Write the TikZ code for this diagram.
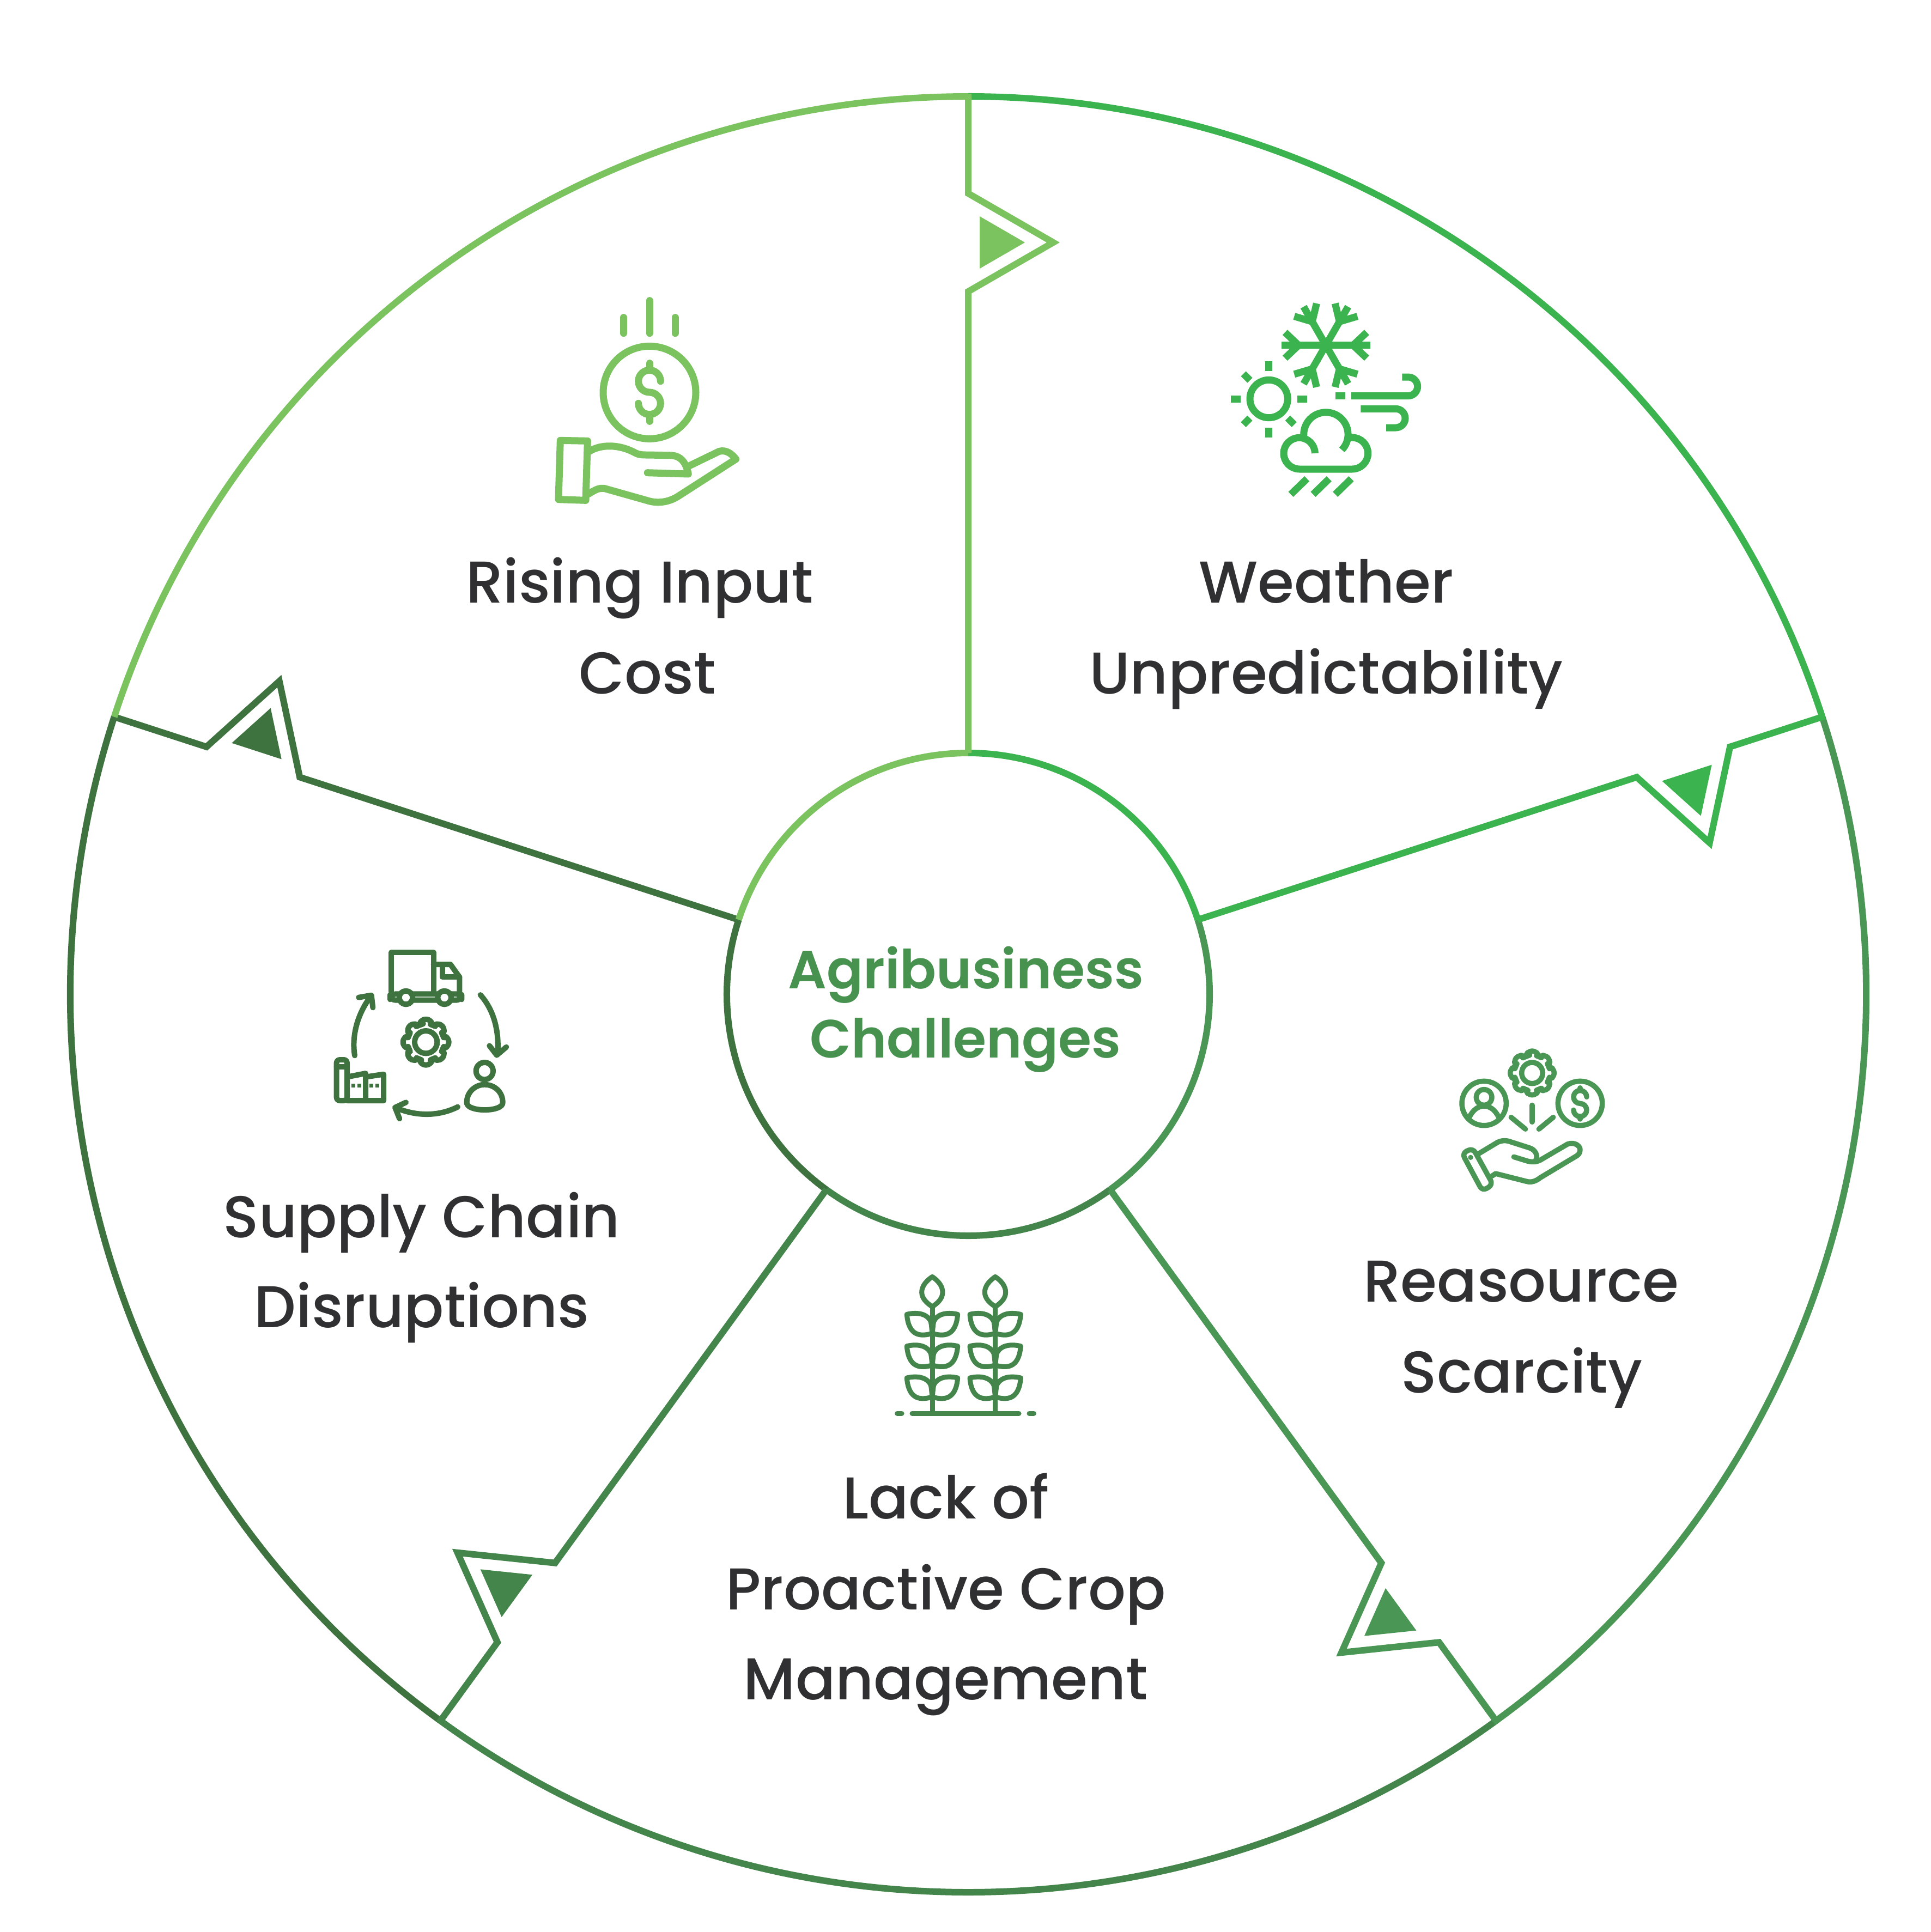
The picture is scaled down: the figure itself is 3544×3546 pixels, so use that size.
\documentclass[tikz,border=0pt]{standalone}
\usepackage{fontspec}
\setmainfont{Poppins}[UprightFont=* Medium,BoldFont=* SemiBold]
\definecolor{cA}{HTML}{7AC35F}
\definecolor{cB}{HTML}{3BB34E}
\definecolor{cC}{HTML}{4A9654}
\definecolor{cD}{HTML}{43854B}
\definecolor{cE}{HTML}{3E733F}
\definecolor{hubink}{HTML}{47924F}
\definecolor{ink}{HTML}{303033}
\newcommand{\dollarglyph}[4]{% cx, cy top-arc centre, radius, tick length
  \draw (#1+#3,#2) arc[start angle=0,end angle=-270,radius=#3] arc[start angle=-90,end angle=180,radius=#3];
  \draw (#1,#2-#3-#4) -- (#1,#2-#3);
  \draw (#1,#2+3*#3) -- (#1,#2+3*#3+#4);
}
\newcommand{\cogwheel}[5]{% cx, cy, valley r, tooth r, ring r
  \draw[rounded corners=0.7mm] ($(#1,#2)+(-110:#3)$)
    \foreach \t in {0,45,...,315}{ -- ($(#1,#2)+(\t-90-19:#3)$) -- ($(#1,#2)+(\t-90-11:#4)$) -- ($(#1,#2)+(\t-90+11:#4)$) -- ($(#1,#2)+(\t-90+19:#3)$)} -- cycle;
  \draw (#1,#2) circle[radius=#5];
}
\newcommand{\grainleaf}{%
  \draw (-140,0) .. controls (-90,-12) and (-30,-8) .. (-8,40) .. controls (-3,65) and (-3,85) .. (0,105) .. controls (-60,122) and (-130,125) .. (-140,0) -- cycle;
  \draw (140,0) .. controls (90,-12) and (30,-8) .. (8,40) .. controls (3,65) and (3,85) .. (0,105) .. controls (60,122) and (130,125) .. (140,0) -- cycle;
}
\newcommand{\grainstalk}[1]{%
  \begin{scope}[shift={(#1,0)}]
    \draw (0,70) .. controls (30,90) and (57,120) .. (57,155) .. controls (57,190) and (30,215) .. (0,235) .. controls (-30,215) and (-58,190) .. (-58,155) .. controls (-58,120) and (-30,90) .. (0,70) -- cycle;
    \draw (0,235) -- (0,822);
    \foreach \dy in {277,452,627}{\begin{scope}[shift={(0,\dy)}]\grainleaf\end{scope}}
  \end{scope}
}
\usetikzlibrary{calc}
\tikzset{
  itemtext/.style={anchor=base,text=ink,inner sep=0pt,font=\fontsize{30.8pt}{36pt}\selectfont},
  hubtext/.style={anchor=base,text=hubink,inner sep=0pt,font=\bfseries\fontsize{28.1pt}{34pt}\selectfont},
  wedgeline/.style={line width=1.2mm,miter limit=10},
  iconround/.style={line cap=round,line join=round},
}
\newcommand{\sector}[2]{% rotation, colour
  \begin{scope}[shift={(1777,1825)},rotate=#1]
    \draw[wedgeline,#2] (0,-1648) arc[start angle=-90,end angle=-162,radius=1648];
    \draw[wedgeline,#2] (0,-443) arc[start angle=-90,end angle=-162,radius=443];
    \draw[wedgeline,#2] (0,-1653) -- (0,-1470) -- (156,-1380) -- (0,-1290) -- (0,-443);
    \fill[#2] (21,-1428) -- (104,-1380) -- (21,-1332) -- cycle;
  \end{scope}
}
\begin{document}
\begin{tikzpicture}[x=0.1mm,y=-0.1mm]
\useasboundingbox (0,0) rectangle (3544,3546);
\fill[white] (0,0) rectangle (3544,3546);
\sector{-288}{cE}
\sector{-216}{cD}
\sector{-144}{cC}
\sector{-72}{cB}
\sector{0}{cA}

% hub text
\node[hubtext] (hubA) at (1773,1814) {\textbf{Agribusiness}};
\node[hubtext] (hubB) at (1772,1941) {\textbf{Challenges}};

% labels
\node[itemtext] (t1a) at (1174,1106) {Rising Input};
\node[itemtext] (t1b) at (1188,1273) {Cost};
\node[itemtext] (t2a) at (2434,1106) {Weather};
\node[itemtext] (t2b) at (2434,1273) {Unpredictability};
\node[itemtext] (t3a) at (2792,2389) {Reasource};
\node[itemtext] (t3b) at (2793,2556) {Scarcity};
\node[itemtext] (t4a) at (1736,2787) {Lack of};
\node[itemtext] (t4b) at (1736,2954) {Proactive Crop};
\node[itemtext] (t4c) at (1736,3119) {Management};
\node[itemtext] (t5a) at (774,2271) {Supply Chain};
\node[itemtext] (t5b) at (774,2436) {Disruptions};

% icon 1: hand and coin
\begin{scope}[shift={(980,520)},scale=1/3,cA,line width=1.3mm,iconround]
  \draw (494,188) -- (494,275);
  \draw (636,95) -- (636,275);
  \draw (777,188) -- (777,275);
  \draw (636,601) circle[radius=255];
  \dollarglyph{636}{539}{61}{38}
  \draw (145,865) -- (295,868) -- (285,1195) -- (135,1190) -- cycle;
  \draw (305,925) .. controls (370,885) and (470,885) .. (560,935) .. controls (580,945) and (600,945) .. (620,945) -- (745,947) .. controls (800,947) and (835,975) .. (850,1050) -- (625,1043);
  \draw (855,1005) -- (1020,925) .. controls (1060,915) and (1090,940) .. (1112,968) -- (790,1175) .. controls (740,1205) and (680,1215) .. (620,1195) -- (390,1130) .. controls (360,1125) and (340,1135) .. (300,1160);
\end{scope}

% icon 2: weather
\begin{scope}[shift={(2230,530)},scale=1/3,cB,line width=1.3mm,line cap=butt]
  \foreach \a in {0,60,...,300}{
    \begin{scope}[shift={(610,311)},rotate=\a]
      \draw (0,0) -- (245,0);
      \draw (225,-71) -- (150,0) -- (225,71);
    \end{scope}
  }
  \draw (296,606) circle[radius=104];
  \draw (296,400) -- (296,452);
  \draw (296,765) -- (296,818);
  \draw (87,608) -- (140,608);
  \draw (453,608) -- (506,608);
  \draw (156,468) -- (192,504);
  \draw (192,712) -- (156,748);
  \draw (400,712) -- (436,748);
  \draw (663,590) -- (717,590);
  \draw (750,590) -- (1063,590) arc[start angle=90,end angle=-90,radius=52] -- (1030,486);
  \draw (802,661) -- (995,661) arc[start angle=-90,end angle=90,radius=52] -- (942,765);
  \draw (730,818) -- (755,819) arc[start angle=-90,end angle=90,radius=87] -- (465,993) arc[start angle=90,end angle=180,radius=87] arc[start angle=180,end angle=360,radius=86];
  \draw (698,887) arc[start angle=44,end angle=-180,radius=122] -- (488,820);
  \draw (506,1046) -- (417,1132);
  \draw (628,1046) -- (540,1132);
  \draw (750,1046) -- (662,1132);
\end{scope}

% icon 3: scarcity (hand with person, gear, coin)
\begin{scope}[shift={(2650,1900)},scale=1/3,cC,line width=0.95mm,iconround]
  \draw (221,375) circle[radius=122];
  \draw (221,342) circle[radius=43];
  \draw (140,452) .. controls (160,410) and (190,390) .. (221,390) .. controls (252,390) and (282,410) .. (302,452);
  \cogwheel{486}{208}{97}{123}{58}
  \draw (750,375) circle[radius=122];
  \dollarglyph{750}{340}{36}{14}
  \draw (486,385) -- (486,478);
  \draw (370,452) -- (449,517);
  \draw (602,452) -- (523,517);
  \draw[rounded corners=0.9mm] (100,650) -- (160,622) -- (270,822) -- (212,858) -- cycle;
  \fill (147,673) circle[radius=14];
  \draw (195,650) -- (295,590) .. controls (320,578) and (345,578) .. (370,588) -- (470,620) .. controls (505,630) and (520,665) .. (505,690);
  \draw (385,670) -- (450,690) .. controls (480,700) and (505,700) .. (530,688) -- (680,600) .. controls (720,585) and (750,610) .. (750,630) .. controls (750,650) and (740,660) .. (725,668) -- (530,785) .. controls (505,805) and (480,812) .. (455,805) -- (285,762) -- (265,775);
\end{scope}

% icon 4: crop
\begin{scope}[shift={(1620,2320)},scale=1/3,cD,line width=0.9mm,iconround]
  \grainstalk{273}
  \grainstalk{620}
  \draw (162,822) -- (750,822);
  \draw (80,822) -- (105,822);
  \draw (807,822) -- (832,822);
\end{scope}

% icon 5: supply chain
\begin{scope}[shift={(590,1720)},scale=1/3,cE,line width=1mm,iconround]
  \draw (385,300) -- (385,85) -- (617,85) -- (617,300);
  \draw (617,150) -- (710,150) -- (760,220) -- (760,300);
  \draw (665,150) -- (665,220) -- (760,220);
  \draw[rounded corners=1mm] (378,313) rectangle (772,347);
  \draw[fill=white] (465,333) circle[radius=37];
  \draw[fill=white] (677,333) circle[radius=37];
  \cogwheel{575}{578}{100}{128}{62}
  \draw (875,318) .. controls (940,390) and (980,500) .. (970,640);
  \draw (925,598) -- (965,650) -- (1018,605);
  \draw (750,935) .. controls (650,985) and (530,990) .. (410,940);
  \draw (465,910) -- (405,938) -- (430,1000);
  \draw (183,652) .. controls (165,540) and (200,420) .. (272,325);
  \draw (205,332) -- (275,320) -- (283,388);
  \draw (898,737) circle[radius=47];
  \draw (800,910) .. controls (800,850) and (850,812) .. (898,812) .. controls (950,812) and (998,850) .. (998,910) .. controls (1002,965) and (796,965) .. (800,910) -- cycle;
  \draw[rounded corners=0.6mm] (83,900) -- (83,675) -- (141,675) -- (141,900) -- cycle;
  \draw (83,715) -- (141,715);
  \draw (141,770) -- (243,750) -- (243,900);
  \draw (243,770) -- (342,755) -- (342,900) -- (141,900);
  \fill (165,806) rectangle (187,828);
  \fill (197,806) rectangle (219,828);
  \fill (264,806) rectangle (286,828);
  \fill (296,806) rectangle (318,828);
\end{scope}
\end{tikzpicture}
\end{document}
